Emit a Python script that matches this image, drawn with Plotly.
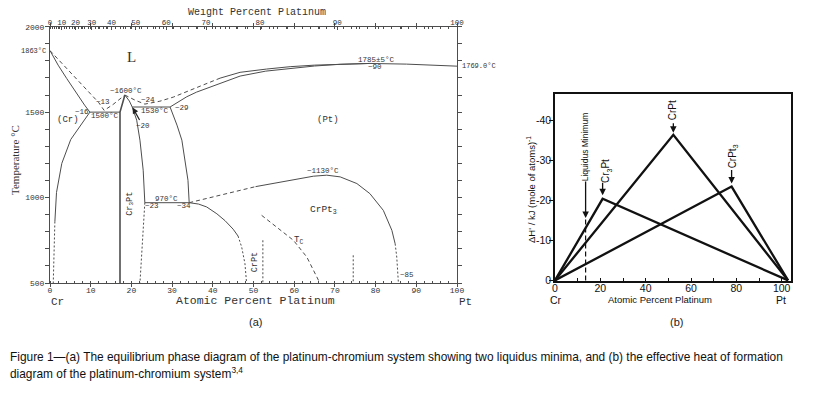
import plotly.graph_objects as go

W, H = 826, 398
OFF = 8  # page body margin offset in the browser
def px(x): return (x - OFF) / W
def py(y): return 1 - (y - OFF) / H

# ---------------- Panel (a): Cr-Pt phase diagram (atomic % Pt, temperature C) ----------------
cr_liquidus_at = [0, 2.0, 4.1, 6.5, 8.5, 9.8]
cr_liquidus_T = [1860, 1775, 1697, 1609, 1541, 1500]

liq_left_dash_at = [0, 4.5, 9.0, 12.0, 13.3, 15.5, 18.4]
liq_left_dash_T = [1860, 1745, 1628, 1555, 1510, 1545, 1600]

eutectic_at = [9.8, 17.2]
eutectic_T = [1500, 1500]

cr3pt_left_at = [18.4, 17.2, 17.2]
cr3pt_left_T = [1600, 1500, 500]

cr3pt_right_at = [18.4, 19.5, 20.2, 21.3, 22.1, 22.9, 23.3]
cr3pt_right_T = [1600, 1565, 1530, 1453, 1336, 1160, 970]

peritectic_at = [20.2, 29.5]
peritectic_T = [1530, 1530]

liq_right_dash_at = [18.4, 20.9, 23.3, 27.0, 30.3, 34.4, 36.9, 41.8]
liq_right_dash_T = [1600, 1570, 1547, 1564, 1588, 1630, 1652, 1699]

liq_right_at = [41.8, 46.7, 53.2, 59.0, 65.0, 71.3, 78.6, 87.6, 100]
liq_right_T = [1699, 1733, 1752, 1766, 1775, 1781, 1785, 1781, 1769]

sol_right_at = [29.5, 31.5, 33.6, 36.0, 38.5, 42.0, 46.7, 53.0, 59.0, 65.0, 71.3, 78.6]
sol_right_T = [1530, 1560, 1590, 1617, 1639, 1672, 1711, 1740, 1756, 1770, 1780, 1785]

b34_at = [29.5, 31.2, 32.4, 33.2, 33.9, 34.2]
b34_T = [1530, 1424, 1336, 1219, 1101, 970]

line970_at = [23.3, 34.2]
line970_T = [970, 970]

b23_dot_at = [23.3, 22.9, 22.1]
b23_dot_T = [970, 808, 500]

cr_solvus_at = [9.8, 7.4, 5.1, 2.9, 1.6, 1.2]
cr_solvus_T = [1500, 1420, 1340, 1200, 1030, 860]
cr_solvus_dot_at = [1.2, 0.8]
cr_solvus_dot_T = [860, 500]

crpt_dome_at = [34.2, 36.5, 38.5, 41.0, 43.0, 45.0, 46.2]
crpt_dome_T = [970, 962, 945, 905, 865, 815, 775]
crpt_dome_dash_at = [46.2, 47.1, 47.9, 48.3]
crpt_dome_dash_T = [775, 710, 613, 500]

crpt3_dash_at = [34.2, 41.0, 48.3, 50.5]
crpt3_dash_T = [970, 1010, 1050, 1064]
crpt3_at = [50.5, 56.5, 60.5, 64.7, 68.0, 71.3, 75.4, 78.6, 81.9, 84.0, 84.8]
crpt3_T = [1064, 1091, 1110, 1125, 1131, 1121, 1082, 1023, 925, 808, 730]
crpt3_end_at = [84.8, 85.2, 85.6]
crpt3_end_T = [730, 652, 500]

tc_at = [52.0, 55.7, 59.8, 63.1, 66.3]
tc_T = [896, 828, 750, 652, 500]

crpt_vert_at = [52.3, 52.3]
crpt_vert_T = [750, 500]
v74_at = [74.5, 74.5]
v74_T = [662, 500]

at_ticks = [0, 10, 20, 30, 40, 50, 60, 70, 80, 90, 100]
T_ticks = [500, 1000, 1500, 2000]
wt_ticks = [0, 10, 20, 30, 40, 50, 60, 70, 80, 90, 100]

# ---------------- Panel (b): effective heat of formation ----------------
compounds = ["Cr<sub>3</sub>Pt", "CrPt", "CrPt<sub>3</sub>"]
comp_at = [21.0, 52.2, 77.9]
comp_dH = [-20.4, -36.4, -23.45]
end_cr = 0.0
end_pt = 102.8
liq_min_at = 13.5
liq_min_dH = -15.3
b_xticks = [0, 20, 40, 60, 80, 100]
b_yticks = [0, -10, -20, -30, -40]

M_PT, M_CR = 195.08, 52.00
def wt_to_at(w):
    a = w / M_PT
    b = (100 - w) / M_CR
    return 100 * a / (a + b)

LC = "#4d4d4d"
TXT = "#333333"
MONO = "Liberation Mono, Courier New, monospace"
SERIF = "Liberation Serif, Times New Roman, serif"
SANS = "Liberation Sans, Arial, sans-serif"

fig = go.Figure()

def seg(x, y, dash="solid", width=1.0, color=LC, xa="x", ya="y"):
    fig.add_trace(go.Scatter(x=x, y=y, mode="lines", xaxis=xa, yaxis=ya,
                             line=dict(color=color, width=width, dash=dash),
                             hoverinfo="skip", showlegend=False))

DASH = "4px,3px"
DOT = "2px,2px"
seg(cr_liquidus_at, cr_liquidus_T)
seg(liq_left_dash_at, liq_left_dash_T, DASH)
seg(eutectic_at, eutectic_T)
seg(cr3pt_left_at, cr3pt_left_T, width=1.6)
seg(cr3pt_right_at, cr3pt_right_T)
seg(peritectic_at, peritectic_T)
seg(liq_right_dash_at, liq_right_dash_T, DASH)
seg(liq_right_at, liq_right_T)
seg(sol_right_at, sol_right_T)
seg(b34_at, b34_T)
seg(line970_at, line970_T)
seg(b23_dot_at, b23_dot_T, DOT)
seg(cr_solvus_at, cr_solvus_T)
seg(cr_solvus_dot_at, cr_solvus_dot_T, DOT)
seg(crpt_dome_at, crpt_dome_T)
seg(crpt_dome_dash_at, crpt_dome_dash_T, DOT)
seg(crpt3_dash_at, crpt3_dash_T, DASH)
seg(crpt3_at, crpt3_T)
seg(crpt3_end_at, crpt3_end_T, DOT)
seg(tc_at, tc_T, DASH)
seg(crpt_vert_at, crpt_vert_T, DOT)
seg(v74_at, v74_T, DOT)

# invisible traces to activate the top weight-percent axes
for xa in ("x3", "x4"):
    fig.add_trace(go.Scatter(x=[0], y=[500], xaxis=xa, yaxis="y", mode="markers",
                             marker=dict(opacity=0), hoverinfo="skip", showlegend=False))

# panel (b) lines
for cx, cy in zip(comp_at, comp_dH):
    seg([end_cr, cx, end_pt], [0, cy, 0], width=2.3, color="#111111", xa="x2", ya="y2")
seg([liq_min_at, liq_min_at], [0, liq_min_dH], dash="5px,3px", width=1.2, color="#111111", xa="x2", ya="y2")

ax_common = dict(showgrid=False, zeroline=False, showline=True, linecolor=LC, linewidth=1,
                 automargin=False)
fig.update_layout(
    width=W, height=H, autosize=False,
    margin=dict(l=0, r=0, t=0, b=0, pad=0),
    paper_bgcolor="white", plot_bgcolor="white",
    xaxis=dict(domain=[px(50), px(457)], range=[0, 100], tickvals=at_ticks,
               ticks="outside", ticklen=3, tickcolor=LC, mirror="allticks",
               minor=dict(dtick=2, ticks="inside", ticklen=2, tickcolor=LC),
               ticklabelstandoff=-4,
               tickfont=dict(family=MONO, size=8, color=TXT), anchor="y", **ax_common),
    yaxis=dict(domain=[py(283), py(26.7)], range=[500, 2000], tickvals=T_ticks,
               ticks="outside", ticklen=4, tickcolor=LC, mirror="allticks",
               minor=dict(dtick=100, ticks="outside", ticklen=2, tickcolor=LC),
               ticklabelstandoff=-1,
               tickfont=dict(family=MONO, size=8, color=TXT), anchor="x", **ax_common),
    xaxis3=dict(overlaying="x", side="top", range=[0, 100], anchor="y", automargin=False,
                tickvals=[wt_to_at(w) for w in wt_ticks], ticktext=[str(w) for w in wt_ticks],
                ticks="inside", ticklen=3, tickcolor=LC, showgrid=False, zeroline=False,
                ticklabelstandoff=-1,
                tickfont=dict(family=MONO, size=7.5, color=TXT)),
    xaxis4=dict(overlaying="x", side="top", range=[0, 100], anchor="y", automargin=False,
                tickvals=[wt_to_at(w) for w in range(0, 101, 2)], showticklabels=False,
                ticks="inside", ticklen=2, tickcolor=LC, showgrid=False, zeroline=False),
    xaxis2=dict(domain=[px(555), px(791)], range=[0, 104.1], tickvals=b_xticks,
                ticktext=[str(v) for v in b_xticks], ticks="inside", ticklen=3,
                tickcolor="#111", minor=dict(dtick=10, ticks="inside", ticklen=3, tickcolor="#111"),
                showgrid=False, zeroline=False, showline=True, linecolor="#111", linewidth=1.5,
                mirror=True, anchor="y2", automargin=False, ticklabelstandoff=-3,
                tickfont=dict(family=SANS, size=10.5, color="#111")),
    yaxis2=dict(domain=[py(281), py(94)], range=[0.15, -46.6], tickvals=b_yticks,
                ticktext=["0", "-10", "-20", "-30", "-40"], ticks="outside", ticklen=4,
                tickcolor="#111", showgrid=False, zeroline=False, showline=True,
                linecolor="#111", linewidth=1.5, mirror=True, anchor="x2", automargin=False,
                ticklabelstandoff=-4,
                tickfont=dict(family=SANS, size=10.5, color="#111")),
)

ann = []
def lab(text, x, y, size=7.5, family=MONO, angle=0, xanchor="center", xref="x", yref="y", color=TXT):
    ann.append(dict(text=text, x=x, y=y, xref=xref, yref=yref, showarrow=False,
                    font=dict(size=size, family=family, color=color), textangle=angle,
                    xanchor=xanchor, yanchor="middle"))

# panel (a) labels
lab("L", 20, 1824, size=15, family=SERIF)
lab("(Cr)", 4.3, 1453, size=9)
lab("(Pt)", 68.4, 1453, size=9)
lab("~1600°C", 18.6, 1622)
lab("~13", 13, 1557)
lab("~16", 7.8, 1502)
lab("1500°C", 13.6, 1480)
lab("~24", 24, 1570)
lab("1530°C", 25.8, 1508)
lab("~29", 32.4, 1525)
lab("Cr<sub>3</sub>Pt", 19.7, 965, size=8.5, angle=-90)
lab("970°C", 28.5, 994)
lab("~23", 25.1, 949)
lab("~34", 33.0, 949)
lab("~1130°C", 67, 1154)
lab("CrPt<sub>3</sub>", 67.3, 930, size=9.5)
lab("T<sub>C</sub>", 61, 746, size=9)
lab("CrPt", 50.4, 622, size=8.5, angle=-90)
lab("~85", 87.7, 545)
lab("1785±5°C", 80.3, 1805)
lab("~90", 79.9, 1762)
ann.append(dict(text="~20", x=20.3, y=1527, xref="x", yref="y", showarrow=True,
                ax=10, ay=18, arrowhead=2, arrowsize=1, arrowwidth=1.2, arrowcolor="#222",
                font=dict(size=7.5, family=MONO, color=TXT)))
lab("1863°C", px(48), 1860, xref="paper", xanchor="right", size=7)
lab("1769.0°C", px(460), 1769, xref="paper", xanchor="left", size=7)
lab("Weight Percent Platinum", px(257), py(12.5), xref="paper", yref="paper", size=10)
lab("Atomic Percent Platinum", px(255), py(300.5), xref="paper", yref="paper", size=11.5)
lab("Cr", px(57), py(301.5), xref="paper", yref="paper", size=11)
lab("Pt", px(465), py(301.5), xref="paper", yref="paper", size=11)
lab("Temperature °C", px(15), py(160), xref="paper", yref="paper", size=11, family=SERIF, angle=-90)

# panel (b) labels and arrows
BK = "#111111"
def arrow(x, y, ay):
    ann.append(dict(text="", x=x, y=y, xref="x2", yref="y2", showarrow=True, ax=0, ay=ay,
                    arrowhead=2, arrowsize=1, arrowwidth=1.3, arrowcolor=BK))
arrow(comp_at[0], comp_dH[0] - 0.9, -14)
arrow(comp_at[1], comp_dH[1] - 0.5, -11)
arrow(comp_at[2], comp_dH[2] - 0.8, -15)
arrow(liq_min_at, liq_min_dH - 0.3, -38)
lab(compounds[0], comp_at[0] + 1.6, -27.4, size=10, family=SANS, angle=-90, xref="x2", yref="y2", color=BK)
lab(compounds[1], comp_at[1], -42.6, size=10, family=SANS, angle=-90, xref="x2", yref="y2", color=BK)
lab(compounds[2], comp_at[2] + 0.6, -31.0, size=10, family=SANS, angle=-90, xref="x2", yref="y2", color=BK)
lab("Liquidus Minimum", liq_min_at - 0.5, -33.4, size=8.5, family=SANS, angle=-90, xref="x2", yref="y2", color=BK)
lab("ΔH' / kJ (mole of atoms)<sup>-1</sup>", px(531), py(190), xref="paper", yref="paper",
    size=9.5, family=SANS, angle=-90, color=BK)
lab("Cr", px(556), py(299.5), xref="paper", yref="paper", size=10.5, family=SANS, color=BK)
lab("Pt", px(781), py(299.5), xref="paper", yref="paper", size=10.5, family=SANS, color=BK)
lab("Atomic Percent Platinum", px(660), py(299.5), xref="paper", yref="paper", size=9.5, family=SANS, color=BK)

# sub-figure letters and caption
lab("(a)", px(255), py(322), xref="paper", yref="paper", size=11, family=SANS, color="#222")
lab("(b)", px(676), py(322), xref="paper", yref="paper", size=11, family=SANS, color="#222")
lab("Figure 1—(a) The equilibrium phase diagram of the platinum-chromium system showing two liquidus minima, and (b) the effective heat of formation",
    px(8), py(357), xref="paper", yref="paper", xanchor="left", size=11.9, family=SANS, color="#111")
lab("diagram of the platinum-chromium system<sup>3,4</sup>",
    px(8), py(373), xref="paper", yref="paper", xanchor="left", size=11.9, family=SANS, color="#111")

fig.update_layout(annotations=ann)
fig.write_html("out.html")
